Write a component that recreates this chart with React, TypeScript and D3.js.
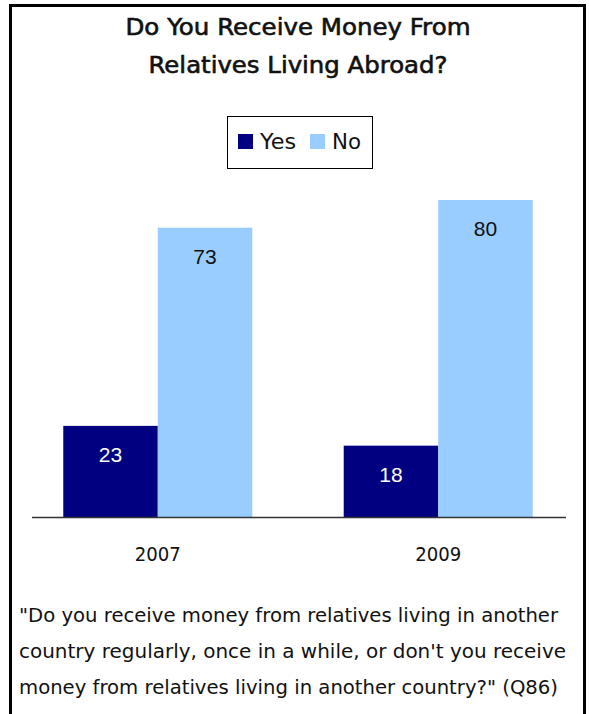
import React from "react";
import * as d3 from "d3";

const years = ["2007", "2009"];
const series = ["Yes", "No"];
const yesValues = [23, 18];
const noValues = [73, 80];
const colors = ["#000080", "#99CCFF"];
const titleLines = ["Do You Receive Money From", "Relatives Living Abroad?"];
const noteLines = [
  "\"Do you receive money from relatives living in another",
  "country regularly, once in a while, or don't you receive",
  "money from relatives living in another country?\" (Q86)",
];

export default function App() {
  const W = 589, H = 714;
  const x0 = d3.scaleBand<string>().domain(years).range([17, 579]).paddingInner(0.326).paddingOuter(0.165);
  const x1 = d3.scaleBand<string>().domain(series).range([0, x0.bandwidth()]);
  const y = d3.scaleLinear().domain([0, 80]).range([517, 200]);
  const valuesBySeries = [yesValues, noValues];
  const font = "'DejaVu Sans', Verdana, sans-serif";

  return (
    <svg width={W} height={H} style={{ position: "absolute", left: 0, top: 0, background: "#fff" }}>
      <rect x={0} y={0} width={W} height={H} fill="#fff" />
      <rect x={10.5} y={5.5} width={574} height={730} fill="none" stroke="#000" strokeWidth={3} />
      {titleLines.map((t, i) => (
        <text key={i} x={298} y={35 + i * 38} textAnchor="middle" fontFamily={font}
          fontSize={22.5} fill="#111" stroke="#111" strokeWidth={0.6}
          textLength={i === 0 ? 345 : 299} lengthAdjust="spacingAndGlyphs">{t}</text>
      ))}
      <rect x={227.5} y={116.5} width={145} height={52} fill="#fff" stroke="#000" strokeWidth={1} />
      {series.map((s, i) => {
        const lx = i === 0 ? 238 : 310;
        return (
          <g key={s}>
            <rect x={lx} y={134} width={15} height={15} fill={colors[i]} />
            <text x={lx + 22} y={149} fontFamily={font} fontSize={21} fill="#111"
              textLength={i === 0 ? 36 : 29} lengthAdjust="spacingAndGlyphs">{s}</text>
          </g>
        );
      })}
      {years.map((yr, gi) => (
        <g key={yr} transform={`translate(${x0(yr)},0)`}>
          {series.map((s, si) => {
            const v = valuesBySeries[si][gi];
            const bx = x1(s)!;
            return (
              <g key={s}>
                <rect x={bx} y={y(v)} width={x1.bandwidth()} height={y(0) - y(v)} fill={colors[si]} />
                <text x={bx + x1.bandwidth() / 2} y={y(v) + 36} textAnchor="middle"
                  fontFamily="'Liberation Sans', Arial, sans-serif" fontSize={21}
                  fill={si === 0 ? "#fff" : "#111"}>{v}</text>
              </g>
            );
          })}
          <text x={x0.bandwidth() / 2} y={561} textAnchor="middle" fontFamily={font} fontSize={19} fill="#111"
            textLength={46} lengthAdjust="spacingAndGlyphs">{yr}</text>
        </g>
      ))}
      <line x1={32} x2={566} y1={517.5} y2={517.5} stroke="#333" strokeWidth={1.5} />
      {noteLines.map((t, i) => (
        <text key={i} x={19} y={622 + i * 36} fontFamily={font} fontSize={19} fill="#111"
          textLength={i === 1 ? 547 : 539} lengthAdjust="spacingAndGlyphs">{t}</text>
      ))}
    </svg>
  );
}
